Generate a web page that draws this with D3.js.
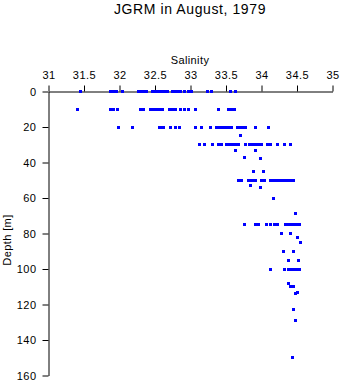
<!DOCTYPE html>
<html><head><meta charset="utf-8">
<script src="https://cdn.jsdelivr.net/npm/d3@7"></script>
<style>
body{margin:0;background:#fff;}
svg{display:block;}
text{font-family:"Liberation Sans",Arial,Helvetica,sans-serif;fill:#000;}
</style></head>
<body>
<script>
const title = "JGRM in August, 1979";
const xLabel = "Salinity";
const yLabel = "Depth [m]";
const xTicks = [31, 31.5, 32, 32.5, 33, 33.5, 34, 34.5, 35];
const yTicks = [0, 20, 40, 60, 80, 100, 120, 140, 160];
const depthLevels = [0,10,20,25,30,33,37,38,45,50,53,54,60,69,75,80,82,85,90,95,100,108,110,113,114,123,129,150];
const salinityAtLevel = [
  [31.45,31.87,31.92,31.96,32.04,32.27,32.31,32.35,32.38,32.46,32.51,32.55,32.59,32.63,32.68,32.75,32.79,32.83,32.86,32.92,32.97,33.01,33.24,33.29,33.56,33.64],
  [31.41,31.87,31.92,31.97,32.30,32.34,32.44,32.48,32.52,32.56,32.61,32.70,32.75,32.79,32.86,32.92,32.97,33.07,33.40,33.54,33.58,33.62],
  [31.98,32.19,32.56,32.60,32.62,32.72,32.79,32.85,33.07,33.16,33.28,33.37,33.41,33.45,33.49,33.54,33.58,33.66,33.70,33.75,33.78,33.91,34.10],
  [33.71],
  [33.13,33.20,33.31,33.39,33.43,33.50,33.55,33.59,33.63,33.68,33.78,33.83,33.87,33.92,33.96,34.00,34.08,34.13,34.22,34.33,34.41],
  [33.64,33.92],
  [33.76],
  [33.98],
  [33.89,34.03],
  [33.68,33.72,33.81,33.86,33.90,33.92,34.00,34.04,34.13,34.17,34.21,34.25,34.30,34.34,34.38,34.42,34.45],
  [33.85],
  [33.99],
  [34.17],
  [34.48],
  [33.76,33.91,33.96,34.07,34.13,34.18,34.22,34.34,34.38,34.42,34.46,34.51,34.54],
  [34.28,34.41],
  [34.51],
  [34.55],
  [34.31,34.45],
  [34.38,34.52],
  [34.12,34.33,34.38,34.42,34.46,34.51,34.54],
  [34.38],
  [34.41,34.45],
  [34.50],
  [34.48],
  [34.45],
  [34.48],
  [34.44]
];

const points = [];
depthLevels.forEach((d, i) => salinityAtLevel[i].forEach(s => points.push({s, d})));

const W = 341, H = 384;
const svg = d3.select("body").append("svg").attr("width", W).attr("height", H);

const x = d3.scaleLinear().domain([31, 35]).range([48, 332]);
const y = d3.scaleLinear().domain([0, 160]).range([91, 375]);

// title
svg.append("text").attr("x", 190).attr("y", 14).attr("text-anchor", "middle")
  .style("font-size", "14px").style("letter-spacing", "0.6px").text(title);

// x axis (top, at depth 0)
const gx = svg.append("g").attr("transform", `translate(0.5,${y(0)+0.5})`)
  .call(d3.axisTop(x).tickValues(xTicks).tickFormat(d3.format("")).tickSize(6).tickSizeOuter(0).tickPadding(7));
gx.selectAll("text").style("font-size", "11px").style("letter-spacing", "0.5px");

// y axis
const gy = svg.append("g").attr("transform", `translate(${x(31)+0.5},0.5)`)
  .call(d3.axisLeft(y).tickValues(yTicks).tickSize(6).tickSizeOuter(0).tickPadding(6));
gy.selectAll("text").style("font-size", "11px").style("letter-spacing", "0.5px");

svg.selectAll(".domain, .tick line").attr("stroke", "#000").attr("stroke-width", 1);

// axis labels
svg.append("text").attr("x", 190).attr("y", 64).attr("text-anchor", "middle")
  .style("font-size", "11px").style("letter-spacing", "0.4px").text(xLabel);
svg.append("text").attr("transform", `translate(11,240) rotate(-90)`).attr("text-anchor", "middle")
  .style("font-size", "11px").style("letter-spacing", "0.4px").text(yLabel);

// points
svg.append("g").selectAll("rect").data(points).join("rect")
  .attr("x", p => Math.round(x(p.s)) - 1)
  .attr("y", p => Math.round(y(p.d)) - 1)
  .attr("width", 3).attr("height", 3)
  .attr("fill", "#0000ff");
</script>
</body></html>
